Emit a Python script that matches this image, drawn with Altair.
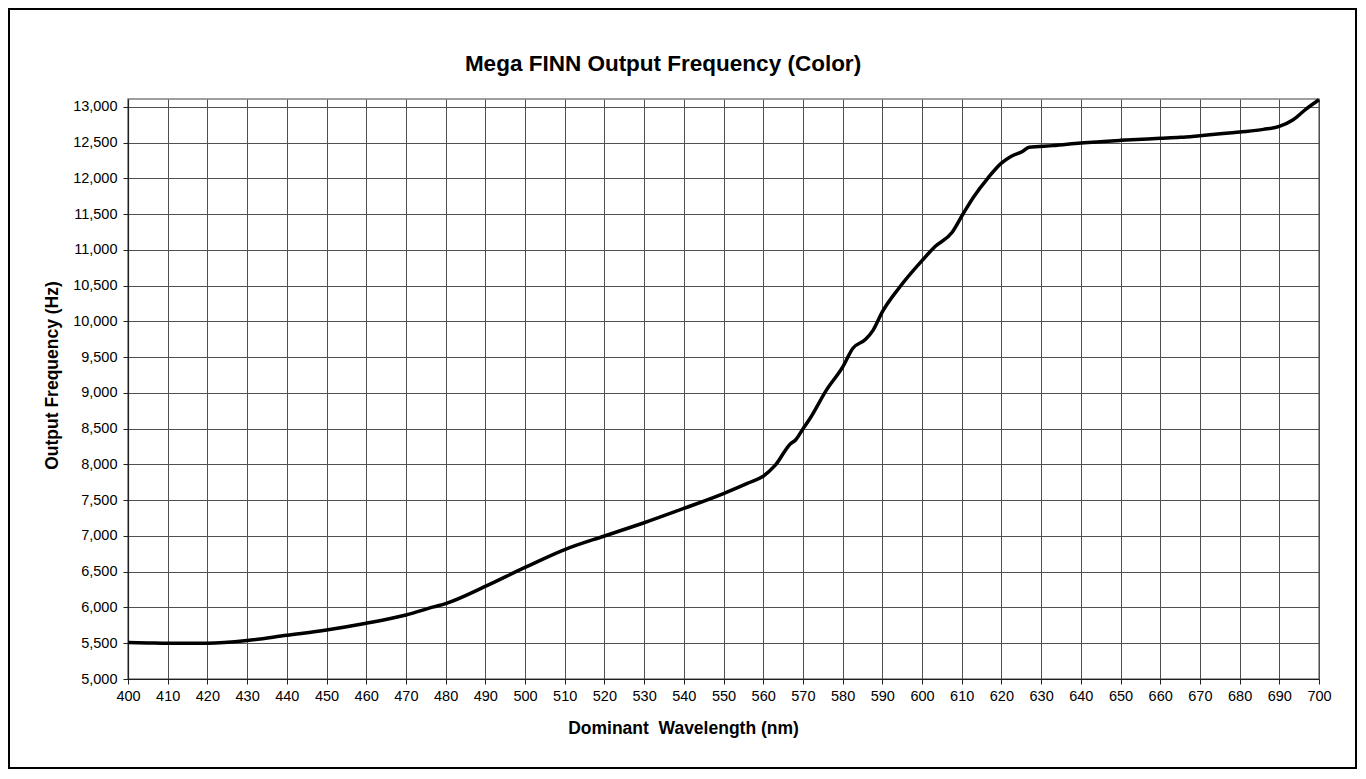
import altair as alt
import pandas as pd

# Dominant wavelength (nm) and output frequency (Hz)
wavelength = [400, 405, 410, 420, 430, 440, 450, 460, 470, 477, 480, 490, 500,
              510, 520, 530, 540, 550, 556, 560, 563, 567, 568, 570, 571.7,
              576, 580, 582.6, 585.8, 587.7, 590, 594.4, 600, 603.3, 607.5,
              610.4, 613, 616.6, 620, 622.4, 625.3, 627, 633, 640, 650, 660,
              665, 670, 680, 686, 690, 693.5, 696.8, 700]
frequency = [5510, 5505, 5500, 5500, 5537, 5612, 5685, 5779, 5894, 6008, 6055,
             6295, 6560, 6810, 7000, 7185, 7385, 7593, 7735, 7835, 7986,
             8296, 8333, 8496, 8635, 9046, 9360, 9625, 9750, 9879, 10133,
             10481, 10850, 11046, 11240, 11509, 11740, 12005, 12213, 12306,
             12375, 12435, 12458, 12495, 12532, 12560, 12574, 12597, 12648,
             12685, 12726, 12819, 12972, 13100]

x_ticks = list(range(400, 701, 10))
y_ticks = list(range(5000, 13001, 500))

title_text = "Mega FINN Output Frequency (Color)"
x_title = "Dominant\u00a0 Wavelength (nm)"
y_title = "Output Frequency (Hz)"

df = pd.DataFrame({"wavelength": wavelength, "frequency": frequency})

W, H = 1191, 580
FONT = "Liberation Sans"

line = alt.Chart(df).mark_line(
    color="black", strokeWidth=3.5, interpolate="monotone"
).encode(
    x=alt.X("wavelength:Q",
            scale=alt.Scale(domain=[400, 700], nice=False, zero=False),
            axis=alt.Axis(values=x_ticks, title=x_title, format="d",
                          titleX=555, titleY=40, titleBaseline="top",
                          titleAlign="center", labelPadding=5,
                          labelFlush=False)),
    y=alt.Y("frequency:Q",
            scale=alt.Scale(domain=[5000, 13110], nice=False, zero=False),
            axis=alt.Axis(values=y_ticks, title=y_title, format=",.0f",
                          titleX=-67, titleY=276, labelPadding=6,
                          labelFlush=False)),
)

frame = alt.Chart(alt.Data(values=[{"a": 1}])).mark_rect(
    filled=False, stroke="black", strokeWidth=2
).encode(
    x=alt.value(-119), x2=alt.value(1228),
    y=alt.value(-90), y2=alt.value(669),
)

title = alt.Chart(alt.Data(values=[{"a": 1}])).mark_text(
    text=title_text, font=FONT, fontSize=22.5, fontWeight="bold",
    align="center", baseline="alphabetic", color="black"
).encode(x=alt.value(535), y=alt.value(-28))

chart = alt.layer(frame, line, title).properties(
    width=W, height=H, padding=0, background="white"
).configure_view(
    stroke="#808080", strokeWidth=1.5
).configure_axis(
    grid=True, gridColor="#505050", gridWidth=1, gridOpacity=1,
    domainColor="#202020", domainWidth=1.2,
    tickColor="#202020", tickSize=5,
    labelFont=FONT, labelFontSize=14.5, labelColor="black",
    titleFont=FONT, titleFontSize=17.5, titleFontWeight="bold", titleColor="black",
)

chart.save("out.html", embed_options={"renderer": "svg", "actions": False})
